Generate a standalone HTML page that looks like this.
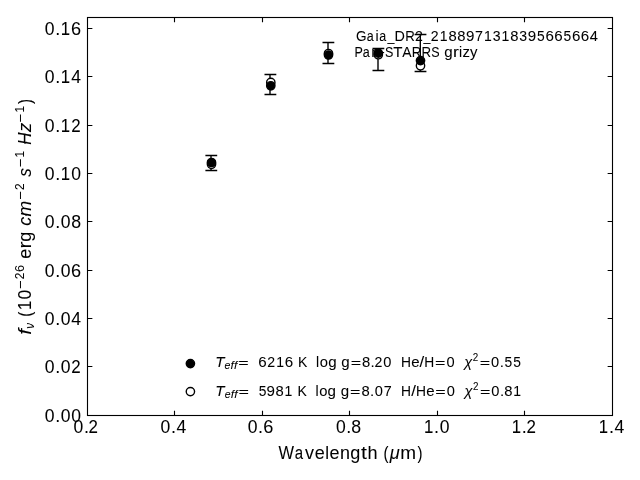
<!DOCTYPE html><html><head><meta charset="utf-8"><style>html,body{margin:0;padding:0;background:#fff;width:640px;height:480px;overflow:hidden}svg{display:block;will-change:transform}text{white-space:pre;font-family:"Liberation Sans",sans-serif;fill:#000;text-rendering:auto;stroke:#000;stroke-width:0.05px}</style></head><body>
<svg width="640" height="480" viewBox="0 0 640 480">
<rect width="640" height="480" fill="#fff"/>
<rect x="87.5" y="17.5" width="525" height="398" fill="none" stroke="#000" stroke-width="1.11"/>
<path d="M174.5 415.5V410.64M174.5 17.5V22.36M262.5 415.5V410.64M262.5 17.5V22.36M349.5 415.5V410.64M349.5 17.5V22.36M437.5 415.5V410.64M437.5 17.5V22.36M524.5 415.5V410.64M524.5 17.5V22.36M87.5 366.5H92.36M612.5 366.5H607.64M87.5 318.5H92.36M612.5 318.5H607.64M87.5 270.5H92.36M612.5 270.5H607.64M87.5 221.5H92.36M612.5 221.5H607.64M87.5 173.5H92.36M612.5 173.5H607.64M87.5 125.5H92.36M612.5 125.5H607.64M87.5 76.5H92.36M612.5 76.5H607.64M87.5 28.5H92.36M612.5 28.5H607.64" stroke="#000" stroke-width="1.11" fill="none"/>
<text><tspan x="44.87" y="421.57" font-size="17.67" textLength="9.77" lengthAdjust="spacingAndGlyphs">0</tspan><tspan x="55.17" y="421.57" font-size="17.67" textLength="5.01" lengthAdjust="spacingAndGlyphs">.</tspan><tspan x="60.73" y="421.57" font-size="17.67" textLength="9.77" lengthAdjust="spacingAndGlyphs">0</tspan><tspan x="71.31" y="421.57" font-size="17.67" textLength="9.77" lengthAdjust="spacingAndGlyphs">0</tspan></text>
<text><tspan x="44.87" y="372.57" font-size="17.67" textLength="9.77" lengthAdjust="spacingAndGlyphs">0</tspan><tspan x="55.17" y="372.57" font-size="17.67" textLength="5.01" lengthAdjust="spacingAndGlyphs">.</tspan><tspan x="60.73" y="372.57" font-size="17.67" textLength="9.77" lengthAdjust="spacingAndGlyphs">0</tspan><tspan x="71.26" y="372.57" font-size="17.67" textLength="9.42" lengthAdjust="spacingAndGlyphs">2</tspan></text>
<text><tspan x="44.87" y="324.57" font-size="17.67" textLength="9.77" lengthAdjust="spacingAndGlyphs">0</tspan><tspan x="55.17" y="324.57" font-size="17.67" textLength="5.01" lengthAdjust="spacingAndGlyphs">.</tspan><tspan x="60.73" y="324.57" font-size="17.67" textLength="9.77" lengthAdjust="spacingAndGlyphs">0</tspan><tspan x="71.30" y="324.57" font-size="17.67" textLength="9.77" lengthAdjust="spacingAndGlyphs">4</tspan></text>
<text><tspan x="44.87" y="276.57" font-size="17.67" textLength="9.77" lengthAdjust="spacingAndGlyphs">0</tspan><tspan x="55.17" y="276.57" font-size="17.67" textLength="5.01" lengthAdjust="spacingAndGlyphs">.</tspan><tspan x="60.73" y="276.57" font-size="17.67" textLength="9.77" lengthAdjust="spacingAndGlyphs">0</tspan><tspan x="71.13" y="276.57" font-size="17.67" textLength="10.11" lengthAdjust="spacingAndGlyphs">6</tspan></text>
<text><tspan x="44.87" y="227.57" font-size="17.67" textLength="9.77" lengthAdjust="spacingAndGlyphs">0</tspan><tspan x="55.17" y="227.57" font-size="17.67" textLength="5.01" lengthAdjust="spacingAndGlyphs">.</tspan><tspan x="60.73" y="227.57" font-size="17.67" textLength="9.77" lengthAdjust="spacingAndGlyphs">0</tspan><tspan x="71.25" y="227.57" font-size="17.67" textLength="9.88" lengthAdjust="spacingAndGlyphs">8</tspan></text>
<text><tspan x="44.87" y="179.57" font-size="17.67" textLength="9.77" lengthAdjust="spacingAndGlyphs">0</tspan><tspan x="55.17" y="179.57" font-size="17.67" textLength="5.01" lengthAdjust="spacingAndGlyphs">.</tspan><tspan x="60.87" y="179.57" font-size="17.67" textLength="9.33" lengthAdjust="spacingAndGlyphs">1</tspan><tspan x="71.31" y="179.57" font-size="17.67" textLength="9.77" lengthAdjust="spacingAndGlyphs">0</tspan></text>
<text><tspan x="44.87" y="131.57" font-size="17.67" textLength="9.77" lengthAdjust="spacingAndGlyphs">0</tspan><tspan x="55.17" y="131.57" font-size="17.67" textLength="5.01" lengthAdjust="spacingAndGlyphs">.</tspan><tspan x="60.87" y="131.57" font-size="17.67" textLength="9.33" lengthAdjust="spacingAndGlyphs">1</tspan><tspan x="71.26" y="131.57" font-size="17.67" textLength="9.42" lengthAdjust="spacingAndGlyphs">2</tspan></text>
<text><tspan x="44.87" y="82.57" font-size="17.67" textLength="9.77" lengthAdjust="spacingAndGlyphs">0</tspan><tspan x="55.17" y="82.57" font-size="17.67" textLength="5.01" lengthAdjust="spacingAndGlyphs">.</tspan><tspan x="60.87" y="82.57" font-size="17.67" textLength="9.33" lengthAdjust="spacingAndGlyphs">1</tspan><tspan x="71.30" y="82.57" font-size="17.67" textLength="9.77" lengthAdjust="spacingAndGlyphs">4</tspan></text>
<text><tspan x="44.87" y="34.57" font-size="17.67" textLength="9.77" lengthAdjust="spacingAndGlyphs">0</tspan><tspan x="55.17" y="34.57" font-size="17.67" textLength="5.01" lengthAdjust="spacingAndGlyphs">.</tspan><tspan x="60.87" y="34.57" font-size="17.67" textLength="9.33" lengthAdjust="spacingAndGlyphs">1</tspan><tspan x="71.13" y="34.57" font-size="17.67" textLength="10.11" lengthAdjust="spacingAndGlyphs">6</tspan></text>
<text><tspan x="73.60" y="432.57" font-size="17.67" textLength="9.77" lengthAdjust="spacingAndGlyphs">0</tspan><tspan x="83.90" y="432.57" font-size="17.67" textLength="5.01" lengthAdjust="spacingAndGlyphs">.</tspan><tspan x="88.54" y="432.57" font-size="17.67" textLength="9.42" lengthAdjust="spacingAndGlyphs">2</tspan></text>
<text><tspan x="160.60" y="432.57" font-size="17.67" textLength="9.77" lengthAdjust="spacingAndGlyphs">0</tspan><tspan x="170.90" y="432.57" font-size="17.67" textLength="5.01" lengthAdjust="spacingAndGlyphs">.</tspan><tspan x="176.46" y="432.57" font-size="17.67" textLength="9.77" lengthAdjust="spacingAndGlyphs">4</tspan></text>
<text><tspan x="247.65" y="432.57" font-size="17.67" textLength="9.77" lengthAdjust="spacingAndGlyphs">0</tspan><tspan x="257.96" y="432.57" font-size="17.67" textLength="5.01" lengthAdjust="spacingAndGlyphs">.</tspan><tspan x="263.34" y="432.57" font-size="17.67" textLength="10.11" lengthAdjust="spacingAndGlyphs">6</tspan></text>
<text><tspan x="335.95" y="432.57" font-size="17.67" textLength="9.77" lengthAdjust="spacingAndGlyphs">0</tspan><tspan x="346.25" y="432.57" font-size="17.67" textLength="5.01" lengthAdjust="spacingAndGlyphs">.</tspan><tspan x="351.26" y="432.57" font-size="17.67" textLength="9.88" lengthAdjust="spacingAndGlyphs">8</tspan></text>
<text><tspan x="423.96" y="432.57" font-size="17.67" textLength="9.33" lengthAdjust="spacingAndGlyphs">1</tspan><tspan x="434.12" y="432.57" font-size="17.67" textLength="5.01" lengthAdjust="spacingAndGlyphs">.</tspan><tspan x="439.68" y="432.57" font-size="17.67" textLength="9.77" lengthAdjust="spacingAndGlyphs">0</tspan></text>
<text><tspan x="511.68" y="432.69" font-size="17.67" textLength="9.33" lengthAdjust="spacingAndGlyphs">1</tspan><tspan x="521.84" y="432.69" font-size="17.67" textLength="5.01" lengthAdjust="spacingAndGlyphs">.</tspan><tspan x="526.48" y="432.69" font-size="17.67" textLength="9.42" lengthAdjust="spacingAndGlyphs">2</tspan></text>
<text><tspan x="598.87" y="432.58" font-size="17.67" textLength="9.33" lengthAdjust="spacingAndGlyphs">1</tspan><tspan x="609.03" y="432.58" font-size="17.67" textLength="5.01" lengthAdjust="spacingAndGlyphs">.</tspan><tspan x="614.59" y="432.58" font-size="17.67" textLength="9.77" lengthAdjust="spacingAndGlyphs">4</tspan></text>
<text><tspan x="278.56" y="458.60" font-size="17.67" textLength="15.51" lengthAdjust="spacingAndGlyphs">W</tspan><tspan x="294.87" y="458.60" font-size="17.67" textLength="8.35" lengthAdjust="spacingAndGlyphs">a</tspan><tspan x="305.14" y="458.60" font-size="17.67" textLength="8.99" lengthAdjust="spacingAndGlyphs">v</tspan><tspan x="314.69" y="458.60" font-size="17.67" textLength="10.01" lengthAdjust="spacingAndGlyphs">e</tspan><tspan x="325.19" y="458.60" font-size="17.67" textLength="3.79" lengthAdjust="spacingAndGlyphs">l</tspan><tspan x="329.54" y="458.60" font-size="17.67" textLength="10.01" lengthAdjust="spacingAndGlyphs">e</tspan><tspan x="339.93" y="458.60" font-size="17.67" textLength="9.99" lengthAdjust="spacingAndGlyphs">n</tspan><tspan x="350.31" y="458.60" font-size="17.67" textLength="10.07" lengthAdjust="spacingAndGlyphs">g</tspan><tspan x="360.97" y="458.60" font-size="17.67" textLength="5.89" lengthAdjust="spacingAndGlyphs">t</tspan><tspan x="367.48" y="458.60" font-size="17.67" textLength="10.06" lengthAdjust="spacingAndGlyphs">h</tspan> <tspan x="383.42" y="458.60" font-size="17.67" textLength="5.00" lengthAdjust="spacingAndGlyphs">(</tspan><tspan x="389.69" y="458.60" font-size="17.67" font-style="italic" textLength="9.99" lengthAdjust="spacingAndGlyphs">μ</tspan><tspan x="400.36" y="458.60" font-size="17.67" textLength="15.82" lengthAdjust="spacingAndGlyphs">m</tspan><tspan x="417.43" y="458.60" font-size="17.67" textLength="5.00" lengthAdjust="spacingAndGlyphs">)</tspan></text>
<text><tspan x="355.91" y="40.64" font-size="14.72" textLength="10.54" lengthAdjust="spacingAndGlyphs">G</tspan><tspan x="366.86" y="40.64" font-size="14.72" textLength="6.96" lengthAdjust="spacingAndGlyphs">a</tspan><tspan x="375.43" y="40.64" font-size="14.72" textLength="3.15" lengthAdjust="spacingAndGlyphs">i</tspan><tspan x="379.22" y="40.64" font-size="14.72" textLength="6.96" lengthAdjust="spacingAndGlyphs">a</tspan><tspan x="387.44" y="40.64" font-size="14.72" textLength="6.96" lengthAdjust="spacingAndGlyphs">_</tspan><tspan x="394.55" y="40.64" font-size="14.72" textLength="10.38" lengthAdjust="spacingAndGlyphs">D</tspan><tspan x="405.32" y="40.64" font-size="14.72" textLength="9.59" lengthAdjust="spacingAndGlyphs">R</tspan><tspan x="414.99" y="40.64" font-size="14.72" textLength="7.85" lengthAdjust="spacingAndGlyphs">2</tspan><tspan x="423.53" y="40.64" font-size="14.72" textLength="6.96" lengthAdjust="spacingAndGlyphs">_</tspan><tspan x="430.76" y="40.64" font-size="14.72" textLength="7.85" lengthAdjust="spacingAndGlyphs">2</tspan><tspan x="439.74" y="40.64" font-size="14.72" textLength="7.78" lengthAdjust="spacingAndGlyphs">1</tspan><tspan x="448.41" y="40.64" font-size="14.72" textLength="8.23" lengthAdjust="spacingAndGlyphs">8</tspan><tspan x="457.23" y="40.64" font-size="14.72" textLength="8.23" lengthAdjust="spacingAndGlyphs">8</tspan><tspan x="465.93" y="40.64" font-size="14.72" textLength="8.41" lengthAdjust="spacingAndGlyphs">9</tspan><tspan x="475.00" y="40.64" font-size="14.72" textLength="7.97" lengthAdjust="spacingAndGlyphs">7</tspan><tspan x="483.88" y="40.64" font-size="14.72" textLength="7.78" lengthAdjust="spacingAndGlyphs">1</tspan><tspan x="492.77" y="40.64" font-size="14.72" textLength="7.82" lengthAdjust="spacingAndGlyphs">3</tspan><tspan x="501.53" y="40.64" font-size="14.72" textLength="7.78" lengthAdjust="spacingAndGlyphs">1</tspan><tspan x="510.20" y="40.64" font-size="14.72" textLength="8.23" lengthAdjust="spacingAndGlyphs">8</tspan><tspan x="519.25" y="40.64" font-size="14.72" textLength="7.82" lengthAdjust="spacingAndGlyphs">3</tspan><tspan x="527.72" y="40.64" font-size="14.72" textLength="8.41" lengthAdjust="spacingAndGlyphs">9</tspan><tspan x="536.90" y="40.64" font-size="14.72" textLength="7.68" lengthAdjust="spacingAndGlyphs">5</tspan><tspan x="545.41" y="40.64" font-size="14.72" textLength="8.43" lengthAdjust="spacingAndGlyphs">6</tspan><tspan x="554.24" y="40.64" font-size="14.72" textLength="8.43" lengthAdjust="spacingAndGlyphs">6</tspan><tspan x="563.39" y="40.64" font-size="14.72" textLength="7.68" lengthAdjust="spacingAndGlyphs">5</tspan><tspan x="571.90" y="40.64" font-size="14.72" textLength="8.43" lengthAdjust="spacingAndGlyphs">6</tspan><tspan x="580.72" y="40.64" font-size="14.72" textLength="8.43" lengthAdjust="spacingAndGlyphs">6</tspan><tspan x="589.69" y="40.64" font-size="14.72" textLength="8.14" lengthAdjust="spacingAndGlyphs">4</tspan></text>
<text><tspan x="354.39" y="56.83" font-size="14.72" textLength="8.35" lengthAdjust="spacingAndGlyphs">P</tspan><tspan x="362.78" y="56.83" font-size="14.72" textLength="6.96" lengthAdjust="spacingAndGlyphs">a</tspan><tspan x="371.26" y="56.83" font-size="14.72" textLength="8.33" lengthAdjust="spacingAndGlyphs">n</tspan><tspan x="379.80" y="56.83" font-size="14.72" textLength="4.99" lengthAdjust="spacingAndGlyphs">-</tspan><tspan x="385.10" y="56.83" font-size="14.72" textLength="8.35" lengthAdjust="spacingAndGlyphs">S</tspan><tspan x="393.22" y="56.83" font-size="14.72" textLength="9.25" lengthAdjust="spacingAndGlyphs">T</tspan><tspan x="402.15" y="56.83" font-size="14.72" textLength="9.33" lengthAdjust="spacingAndGlyphs">A</tspan><tspan x="411.84" y="56.83" font-size="14.72" textLength="9.59" lengthAdjust="spacingAndGlyphs">R</tspan><tspan x="421.48" y="56.83" font-size="14.72" textLength="9.59" lengthAdjust="spacingAndGlyphs">R</tspan><tspan x="431.15" y="56.83" font-size="14.72" textLength="8.35" lengthAdjust="spacingAndGlyphs">S</tspan> <tspan x="444.19" y="56.83" font-size="14.72" textLength="8.40" lengthAdjust="spacingAndGlyphs">g</tspan><tspan x="452.97" y="56.83" font-size="14.72" textLength="5.88" lengthAdjust="spacingAndGlyphs">r</tspan><tspan x="458.93" y="56.83" font-size="14.72" textLength="3.15" lengthAdjust="spacingAndGlyphs">i</tspan><tspan x="462.42" y="56.83" font-size="14.72" textLength="7.44" lengthAdjust="spacingAndGlyphs">z</tspan><tspan x="470.09" y="56.83" font-size="14.72" textLength="7.46" lengthAdjust="spacingAndGlyphs">y</tspan></text>
<text><tspan x="215.17" y="366.84" font-size="14.72" font-style="italic" textLength="9.26" lengthAdjust="spacingAndGlyphs">T</tspan><tspan x="224.50" y="369.14" font-size="10.31" font-style="italic" textLength="5.85" lengthAdjust="spacingAndGlyphs">e</tspan><tspan x="230.64" y="369.14" font-size="10.31" font-style="italic" textLength="3.35" lengthAdjust="spacingAndGlyphs">f</tspan><tspan x="234.06" y="369.14" font-size="10.31" font-style="italic" textLength="3.35" lengthAdjust="spacingAndGlyphs">f</tspan><tspan x="238.20" y="366.50" font-size="12.16" textLength="10.45" lengthAdjust="spacingAndGlyphs">=</tspan>  <tspan x="258.25" y="366.84" font-size="14.72" textLength="8.43" lengthAdjust="spacingAndGlyphs">6</tspan><tspan x="267.19" y="366.84" font-size="14.72" textLength="7.85" lengthAdjust="spacingAndGlyphs">2</tspan><tspan x="276.17" y="366.84" font-size="14.72" textLength="7.78" lengthAdjust="spacingAndGlyphs">1</tspan><tspan x="284.74" y="366.84" font-size="14.72" textLength="8.43" lengthAdjust="spacingAndGlyphs">6</tspan> <tspan x="297.99" y="366.84" font-size="14.72" textLength="9.34" lengthAdjust="spacingAndGlyphs">K</tspan>  <tspan x="316.05" y="366.84" font-size="14.72" textLength="3.15" lengthAdjust="spacingAndGlyphs">l</tspan><tspan x="319.70" y="366.84" font-size="14.72" textLength="8.21" lengthAdjust="spacingAndGlyphs">o</tspan><tspan x="328.17" y="366.84" font-size="14.72" textLength="8.40" lengthAdjust="spacingAndGlyphs">g</tspan> <tspan x="341.39" y="366.84" font-size="14.72" textLength="8.40" lengthAdjust="spacingAndGlyphs">g</tspan><tspan x="350.66" y="366.50" font-size="12.16" textLength="10.45" lengthAdjust="spacingAndGlyphs">=</tspan><tspan x="361.99" y="366.84" font-size="14.72" textLength="8.23" lengthAdjust="spacingAndGlyphs">8</tspan><tspan x="370.63" y="366.84" font-size="14.72" textLength="4.18" lengthAdjust="spacingAndGlyphs">.</tspan><tspan x="374.48" y="366.84" font-size="14.72" textLength="7.85" lengthAdjust="spacingAndGlyphs">2</tspan><tspan x="383.35" y="366.84" font-size="14.72" textLength="8.14" lengthAdjust="spacingAndGlyphs">0</tspan>  <tspan x="400.88" y="366.84" font-size="14.72" textLength="9.98" lengthAdjust="spacingAndGlyphs">H</tspan><tspan x="411.22" y="366.84" font-size="14.72" textLength="8.34" lengthAdjust="spacingAndGlyphs">e</tspan><tspan x="419.62" y="366.84" font-size="14.72" textLength="4.68" lengthAdjust="spacingAndGlyphs">/</tspan><tspan x="424.28" y="366.84" font-size="14.72" textLength="9.98" lengthAdjust="spacingAndGlyphs">H</tspan><tspan x="435.08" y="366.50" font-size="12.16" textLength="10.45" lengthAdjust="spacingAndGlyphs">=</tspan><tspan x="446.45" y="366.84" font-size="14.72" textLength="8.14" lengthAdjust="spacingAndGlyphs">0</tspan>  <tspan x="464.20" y="366.84" font-size="14.72" font-style="italic" textLength="8.00" lengthAdjust="spacingAndGlyphs">χ</tspan><tspan x="472.81" y="361.48" font-size="10.31" textLength="5.49" lengthAdjust="spacingAndGlyphs">2</tspan><tspan x="479.75" y="366.50" font-size="12.16" textLength="10.45" lengthAdjust="spacingAndGlyphs">=</tspan><tspan x="491.12" y="366.84" font-size="14.72" textLength="8.14" lengthAdjust="spacingAndGlyphs">0</tspan><tspan x="499.72" y="366.84" font-size="14.72" textLength="4.18" lengthAdjust="spacingAndGlyphs">.</tspan><tspan x="504.54" y="366.84" font-size="14.72" textLength="7.68" lengthAdjust="spacingAndGlyphs">5</tspan><tspan x="513.36" y="366.84" font-size="14.72" textLength="7.68" lengthAdjust="spacingAndGlyphs">5</tspan></text>
<text><tspan x="215.39" y="395.84" font-size="14.72" font-style="italic" textLength="9.26" lengthAdjust="spacingAndGlyphs">T</tspan><tspan x="224.72" y="398.14" font-size="10.31" font-style="italic" textLength="5.85" lengthAdjust="spacingAndGlyphs">e</tspan><tspan x="230.86" y="398.14" font-size="10.31" font-style="italic" textLength="3.35" lengthAdjust="spacingAndGlyphs">f</tspan><tspan x="234.28" y="398.14" font-size="10.31" font-style="italic" textLength="3.35" lengthAdjust="spacingAndGlyphs">f</tspan><tspan x="238.43" y="395.50" font-size="12.16" textLength="10.45" lengthAdjust="spacingAndGlyphs">=</tspan>  <tspan x="258.79" y="395.84" font-size="14.72" textLength="7.68" lengthAdjust="spacingAndGlyphs">5</tspan><tspan x="266.52" y="395.84" font-size="14.72" textLength="8.41" lengthAdjust="spacingAndGlyphs">9</tspan><tspan x="275.48" y="395.84" font-size="14.72" textLength="8.23" lengthAdjust="spacingAndGlyphs">8</tspan><tspan x="284.47" y="395.84" font-size="14.72" textLength="7.78" lengthAdjust="spacingAndGlyphs">1</tspan> <tspan x="297.46" y="395.84" font-size="14.72" textLength="9.34" lengthAdjust="spacingAndGlyphs">K</tspan>  <tspan x="315.52" y="395.84" font-size="14.72" textLength="3.15" lengthAdjust="spacingAndGlyphs">l</tspan><tspan x="319.17" y="395.84" font-size="14.72" textLength="8.21" lengthAdjust="spacingAndGlyphs">o</tspan><tspan x="327.64" y="395.84" font-size="14.72" textLength="8.40" lengthAdjust="spacingAndGlyphs">g</tspan> <tspan x="340.86" y="395.84" font-size="14.72" textLength="8.40" lengthAdjust="spacingAndGlyphs">g</tspan><tspan x="350.13" y="395.50" font-size="12.16" textLength="10.45" lengthAdjust="spacingAndGlyphs">=</tspan><tspan x="361.46" y="395.84" font-size="14.72" textLength="8.23" lengthAdjust="spacingAndGlyphs">8</tspan><tspan x="370.10" y="395.84" font-size="14.72" textLength="4.18" lengthAdjust="spacingAndGlyphs">.</tspan><tspan x="374.74" y="395.84" font-size="14.72" textLength="8.14" lengthAdjust="spacingAndGlyphs">0</tspan><tspan x="383.63" y="395.84" font-size="14.72" textLength="7.97" lengthAdjust="spacingAndGlyphs">7</tspan>  <tspan x="401.10" y="395.84" font-size="14.72" textLength="9.98" lengthAdjust="spacingAndGlyphs">H</tspan><tspan x="411.31" y="395.84" font-size="14.72" textLength="4.68" lengthAdjust="spacingAndGlyphs">/</tspan><tspan x="415.96" y="395.84" font-size="14.72" textLength="9.98" lengthAdjust="spacingAndGlyphs">H</tspan><tspan x="426.30" y="395.84" font-size="14.72" textLength="8.34" lengthAdjust="spacingAndGlyphs">e</tspan><tspan x="435.30" y="395.50" font-size="12.16" textLength="10.45" lengthAdjust="spacingAndGlyphs">=</tspan><tspan x="446.67" y="395.84" font-size="14.72" textLength="8.14" lengthAdjust="spacingAndGlyphs">0</tspan>  <tspan x="464.43" y="395.84" font-size="14.72" font-style="italic" textLength="8.00" lengthAdjust="spacingAndGlyphs">χ</tspan><tspan x="473.03" y="390.48" font-size="10.31" textLength="5.49" lengthAdjust="spacingAndGlyphs">2</tspan><tspan x="479.97" y="395.50" font-size="12.16" textLength="10.45" lengthAdjust="spacingAndGlyphs">=</tspan><tspan x="491.35" y="395.84" font-size="14.72" textLength="8.14" lengthAdjust="spacingAndGlyphs">0</tspan><tspan x="499.94" y="395.84" font-size="14.72" textLength="4.18" lengthAdjust="spacingAndGlyphs">.</tspan><tspan x="504.16" y="395.84" font-size="14.72" textLength="8.23" lengthAdjust="spacingAndGlyphs">8</tspan><tspan x="513.15" y="395.84" font-size="14.72" textLength="7.78" lengthAdjust="spacingAndGlyphs">1</tspan></text>
<g transform="rotate(-90)">
<text><tspan x="-334.72" y="30.85" font-size="17.67" font-style="italic" textLength="5.75" lengthAdjust="spacingAndGlyphs">f</tspan><tspan x="-328.82" y="33.64" font-size="12.37" font-style="italic" textLength="5.77" lengthAdjust="spacingAndGlyphs">ν</tspan> <tspan x="-316.67" y="30.85" font-size="17.67" textLength="5.00" lengthAdjust="spacingAndGlyphs">(</tspan><tspan x="-310.01" y="30.85" font-size="17.67" textLength="9.33" lengthAdjust="spacingAndGlyphs">1</tspan><tspan x="-299.58" y="30.85" font-size="17.67" textLength="9.77" lengthAdjust="spacingAndGlyphs">0</tspan><tspan x="-288.75" y="25.20" font-size="13.58" textLength="8.78" lengthAdjust="spacingAndGlyphs">−</tspan><tspan x="-279.24" y="24.34" font-size="12.37" textLength="6.59" lengthAdjust="spacingAndGlyphs">2</tspan><tspan x="-271.93" y="24.34" font-size="12.37" textLength="7.08" lengthAdjust="spacingAndGlyphs">6</tspan> <tspan x="-258.79" y="30.85" font-size="17.67" textLength="10.01" lengthAdjust="spacingAndGlyphs">e</tspan><tspan x="-248.59" y="30.85" font-size="17.67" textLength="7.06" lengthAdjust="spacingAndGlyphs">r</tspan><tspan x="-241.72" y="30.85" font-size="17.67" textLength="10.07" lengthAdjust="spacingAndGlyphs">g</tspan> <tspan x="-225.86" y="30.85" font-size="17.67" font-style="italic" textLength="8.96" lengthAdjust="spacingAndGlyphs">c</tspan><tspan x="-216.63" y="30.85" font-size="17.67" font-style="italic" textLength="15.70" lengthAdjust="spacingAndGlyphs">m</tspan><tspan x="-199.42" y="25.20" font-size="13.58" textLength="8.78" lengthAdjust="spacingAndGlyphs">−</tspan><tspan x="-189.90" y="24.34" font-size="12.37" textLength="6.59" lengthAdjust="spacingAndGlyphs">2</tspan> <tspan x="-176.86" y="30.85" font-size="17.67" font-style="italic" textLength="8.54" lengthAdjust="spacingAndGlyphs">s</tspan><tspan x="-167.06" y="25.20" font-size="13.58" textLength="8.78" lengthAdjust="spacingAndGlyphs">−</tspan><tspan x="-157.42" y="24.34" font-size="12.37" textLength="6.53" lengthAdjust="spacingAndGlyphs">1</tspan> <tspan x="-144.72" y="30.85" font-size="17.67" font-style="italic" textLength="12.14" lengthAdjust="spacingAndGlyphs">H</tspan><tspan x="-132.09" y="30.85" font-size="17.67" font-style="italic" textLength="9.24" lengthAdjust="spacingAndGlyphs">z</tspan><tspan x="-122.17" y="25.20" font-size="13.58" textLength="8.78" lengthAdjust="spacingAndGlyphs">−</tspan><tspan x="-112.53" y="24.34" font-size="12.37" textLength="6.53" lengthAdjust="spacingAndGlyphs">1</tspan><tspan x="-103.92" y="30.85" font-size="17.67" textLength="5.00" lengthAdjust="spacingAndGlyphs">)</tspan></text>
</g>
<g stroke="#000" stroke-width="1.39" fill="none">
<path d="M211.0 155.5V170.5M205.40 155.5H217.20M205.40 170.5H217.20"/>
<path d="M270.0 74.5V94.5M264.50 74.5H276.30M264.50 94.5H276.30"/>
<path d="M328.0 42.5V63.5M322.50 42.5H334.30M322.50 63.5H334.30"/>
<path d="M378.0 48.5V70.5M372.50 48.5H384.30M372.50 70.5H384.30"/>
<path d="M420.3 34.5V71.5M414.60 34.5H426.40M414.60 71.5H426.40"/>
</g>
<g stroke="#000" stroke-width="1.39">
<circle cx="211.5" cy="164.3" r="4.17" fill="#fff"/>
<circle cx="270.8" cy="82.4" r="4.17" fill="#fff"/>
<circle cx="328.5" cy="53.5" r="4.17" fill="#fff"/>
<circle cx="378.3" cy="54.7" r="4.17" fill="#fff"/>
<circle cx="420.5" cy="65.8" r="4.17" fill="#fff"/>
<circle cx="211.5" cy="162.5" r="4.17" fill="#000"/>
<circle cx="270.8" cy="85.8" r="4.17" fill="#000"/>
<circle cx="328.5" cy="55.0" r="4.17" fill="#000"/>
<circle cx="378.3" cy="53.1" r="4.17" fill="#000"/>
<circle cx="420.5" cy="60.6" r="4.17" fill="#000"/>
<circle cx="190.4" cy="363.6" r="4.17" fill="#000"/>
<circle cx="190.4" cy="391.6" r="4.17" fill="#fff"/>
</g>
</svg></body></html>
